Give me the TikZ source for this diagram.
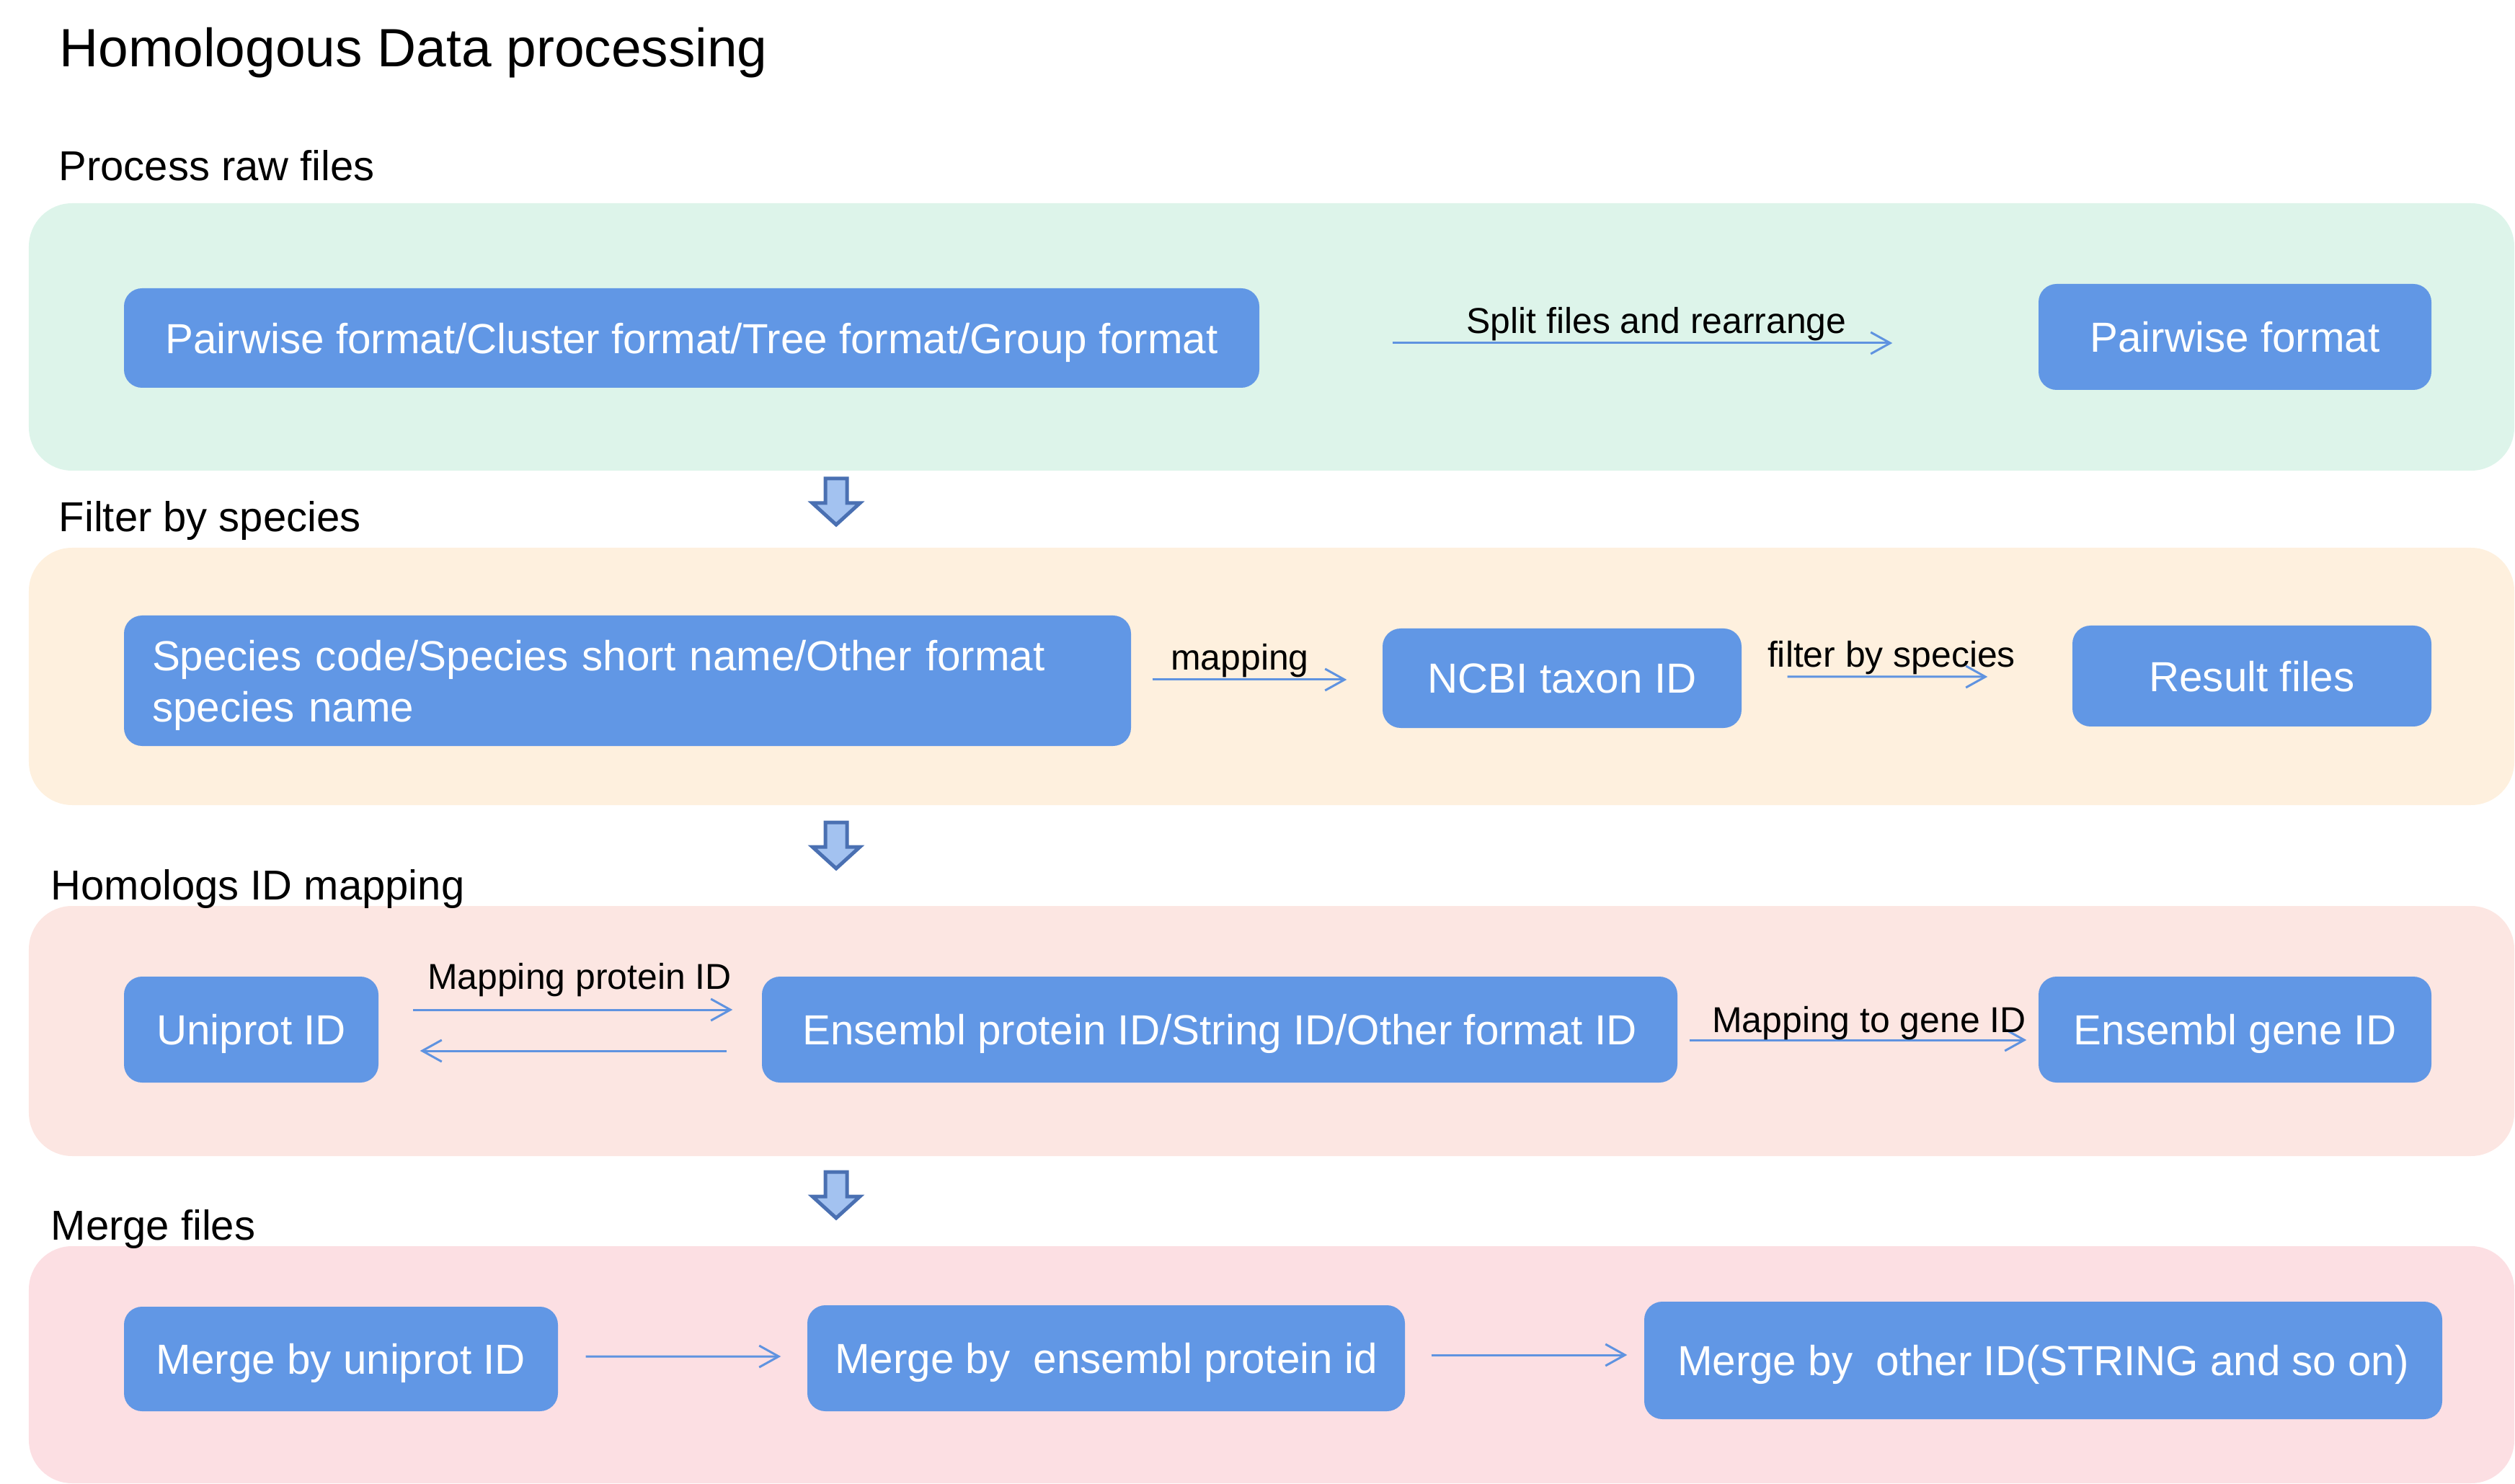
\documentclass[tikz,border=0pt]{standalone}
\usepackage{fontspec}
\setmainfont{Liberation Sans}
\usetikzlibrary{positioning,arrows.meta}

\definecolor{panelgreen}{HTML}{DDF4EA}
\definecolor{panelorange}{HTML}{FEF0DE}
\definecolor{panelsalmon}{HTML}{FCE6E2}
\definecolor{panelpink}{HTML}{FCDFE3}
\definecolor{boxblue}{HTML}{6197E5}
\definecolor{linkblue}{HTML}{5F93E0}
\definecolor{downfill}{HTML}{A3C2F0}
\definecolor{downborder}{HTML}{4A70B2}

\begin{document}
\begin{tikzpicture}[
    box/.style={rectangle, rounded corners=0.25cm, fill=boxblue, text=white, inner sep=0pt, text depth=0pt, font=\fontsize{16.6}{20.2}\selectfont},
    panel/.style={rounded corners=0.6cm},
    heading/.style={anchor=base west, inner sep=0pt, font=\fontsize{16.5}{20}\selectfont},
    lbl/.style={anchor=base, inner sep=0pt, font=\fontsize{14.2}{17}\selectfont},
    link/.style={draw=linkblue, line width=0.03cm, -{Straight Barb[length=0.27cm, width=0.30cm]}},
    downarrow/.style={draw=downborder, fill=downfill, line width=0.05cm, line join=miter}
]
            \useasboundingbox (0,0) rectangle (34.89,-20.59);

            % Draw the panels
            \fill[panelgreen, panel] (0.40,-2.82) rectangle (34.88,-6.53);
            \fill[panelorange, panel] (0.40,-7.60) rectangle (34.88,-11.17);
            \fill[panelsalmon, panel] (0.40,-12.57) rectangle (34.88,-16.04);
            \fill[panelpink, panel] (0.40,-17.29) rectangle (34.88,-20.58);

            % Titles
            \node[anchor=base west, inner sep=0pt, font=\fontsize{21.3}{25}\selectfont] (title) at (0.82,-0.93) {Homologous Data processing};
            \node[heading] (h1) at (0.81,-2.51) {Process raw files};
            \node[heading] (h2) at (0.81,-7.38) {Filter by species};
            \node[heading] (h3) at (0.70,-12.48) {Homologs ID mapping};
            \node[heading] (h4) at (0.70,-17.20) {Merge files};

            % Process raw files
            \node[box, minimum width=15.75cm, minimum height=1.38cm] (allfmt) at (9.595,-4.69) {Pairwise format/Cluster format/Tree format/Group format};
            \node[box, minimum width=5.45cm, minimum height=1.47cm] (pairfmt) at (31.005,-4.675) {Pairwise format};
            \draw[link, shorten <=1.84cm, shorten >=2.02cm] ([yshift=-0.07cm]allfmt.east) -- ([yshift=-0.085cm]pairfmt.west);
            \node[lbl] (splitlbl) at (22.98,-4.63) {Split files and rearrange};

            % Filter by species
            \node[box, text depth=0.71cm, text width=13.19cm, align=left, inner xsep=0.39cm, minimum height=1.81cm] (spcode) at (8.705,-9.445) {Species code/Species short name/Other format\\species name};
            \node[box, minimum width=4.98cm, minimum height=1.38cm] (taxon) at (21.67,-9.41) {NCBI taxon ID};
            \node[box, minimum width=4.98cm, minimum height=1.40cm] (result) at (31.24,-9.38) {Result files};
            \draw[link, shorten <=0.29cm, shorten >=0.49cm] ([yshift=0.015cm]spcode.east) -- ([yshift=-0.02cm]taxon.west);
            \draw[link, shorten <=0.63cm, shorten >=1.17cm] ([yshift=0.02cm]taxon.east) -- ([yshift=-0.01cm]result.west);
            \node[lbl] (maplbl) at (17.20,-9.30) {mapping};
            \node[lbl] (filterlbl) at (26.24,-9.26) {filter by species};

            % Homologs ID mapping
            \node[box, minimum width=3.53cm, minimum height=1.47cm] (uniprot) at (3.485,-14.285) {Uniprot ID};
            \node[box, minimum width=12.70cm, minimum height=1.47cm] (ensprot) at (16.92,-14.285) {Ensembl protein ID/String ID/Other format ID};
            \node[box, minimum width=5.45cm, minimum height=1.47cm] (ensgene) at (31.005,-14.285) {Ensembl gene ID};
            \draw[link, shorten <=0.47cm, shorten >=0.40cm] ([yshift=0.275cm]uniprot.east) -- ([yshift=0.275cm]ensprot.west);
            \draw[link, shorten <=0.48cm, shorten >=0.57cm] ([yshift=-0.295cm]ensprot.west) -- ([yshift=-0.295cm]uniprot.east);
            \draw[link, shorten <=0.16cm, shorten >=0.16cm] ([yshift=-0.145cm]ensprot.east) -- ([yshift=-0.145cm]ensgene.west);
            \node[lbl] (protlbl) at (8.04,-13.72) {Mapping protein ID};
            \node[lbl] (genelbl) at (25.93,-14.32) {Mapping to gene ID};

            % Merge files
            \node[box, minimum width=6.02cm, minimum height=1.45cm] (mergeuni) at (4.73,-18.855) {Merge by uniprot ID};
            \node[box, minimum width=8.29cm, minimum height=1.47cm] (mergeens) at (15.345,-18.845) {Merge by\ \ ensembl protein id};
            \node[box, minimum width=11.07cm, minimum height=1.63cm] (mergeother) at (28.345,-18.875) {Merge by\ \ other ID(STRING and so on)};
            \draw[link, shorten <=0.38cm, shorten >=0.36cm] ([yshift=0.035cm]mergeuni.east) -- ([yshift=0.025cm]mergeens.west);
            \draw[link, shorten <=0.36cm, shorten >=0.23cm] ([yshift=0.045cm]mergeens.east) -- ([yshift=0.075cm]mergeother.west);

            % Draw the arrows between steps
            \foreach \t in {6.64,11.41,16.26}{
                \draw[downarrow] (11.45,-\t) -- (11.75,-\t) -- (11.75,-\t-0.34) -- (11.93,-\t-0.34) -- (11.60,-\t-0.64) -- (11.27,-\t-0.34) -- (11.45,-\t-0.34) -- cycle;
            }
        \end{tikzpicture}
\end{document}
